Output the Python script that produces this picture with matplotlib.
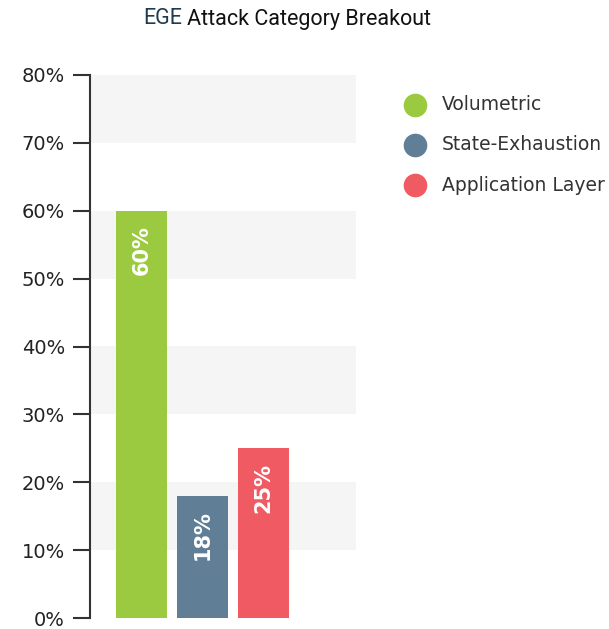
import matplotlib.pyplot as plt
from matplotlib.lines import Line2D

# attack categories and their share of attacks
categories = ['Volumetric', 'State-Exhaustion', 'Application Layer']
shares = [60, 18, 25]
colors = ['#9bc93f', '#607f96', '#ef5a63']
y_ticks = [0, 10, 20, 30, 40, 50, 60, 70, 80]

plt.rcParams['font.family'] = ['DejaVu Sans']

fig = plt.figure(figsize=(6.09, 6.29), dpi=100)
W, H = 609, 629
ax = fig.add_axes([90 / W, 1 - 618 / H, 266 / W, 543 / H])

# light grey banding on alternate 10% steps
for lo in y_ticks[1::2]:
    ax.axhspan(lo, lo + 10, color='#f5f5f5', zorder=0, lw=0)

x = list(range(len(categories)))
bars = ax.bar(x, shares, width=51 / 61, color=colors, zorder=2)
for b, v in zip(bars, shares):
    ax.text(b.get_x() + b.get_width() / 2, v - 2.1, f'{v}%', rotation=90,
            ha='center', va='top', color='white', fontsize=15,
            fontweight='bold', zorder=3)

ax.set_xlim(-0.844, -0.844 + 266 / 61)
ax.set_ylim(0, 80)
ax.set_yticks(y_ticks)
ax.set_yticklabels([f'{t}%' for t in y_ticks])
ax.set_xticks([])
for s in ['top', 'right', 'bottom']:
    ax.spines[s].set_visible(False)
ax.spines['left'].set_color('#333333')
ax.spines['left'].set_linewidth(1.5)
ax.tick_params(axis='y', length=12, width=1.5, color='#333333',
               labelsize=14, labelcolor='#222222', pad=6)

# title: "EGE" in navy, rest in black
title_font = ['Roboto', 'DejaVu Sans']
fig.text(182 / W, 1 - 19 / H, 'EGE', ha='right', va='center',
         fontsize=15.5, color='#1d3c52', family=title_font)
fig.text(187 / W, 1 - 19 / H, 'Attack Category Breakout', ha='left',
         va='center', fontsize=15.5, color='#111111', family=title_font)

# legend with round markers
for i, (name, c) in enumerate(zip(categories, colors)):
    yy = 1 - (105 + 40 * i) / H
    fig.add_artist(Line2D([415 / W], [yy], marker='o', markersize=16,
                          color=c, transform=fig.transFigure, lw=0))
    fig.text(442 / W, yy, name, ha='left', va='center', fontsize=13.5,
             color='#333333')

fig.savefig('out.png', dpi=100)
